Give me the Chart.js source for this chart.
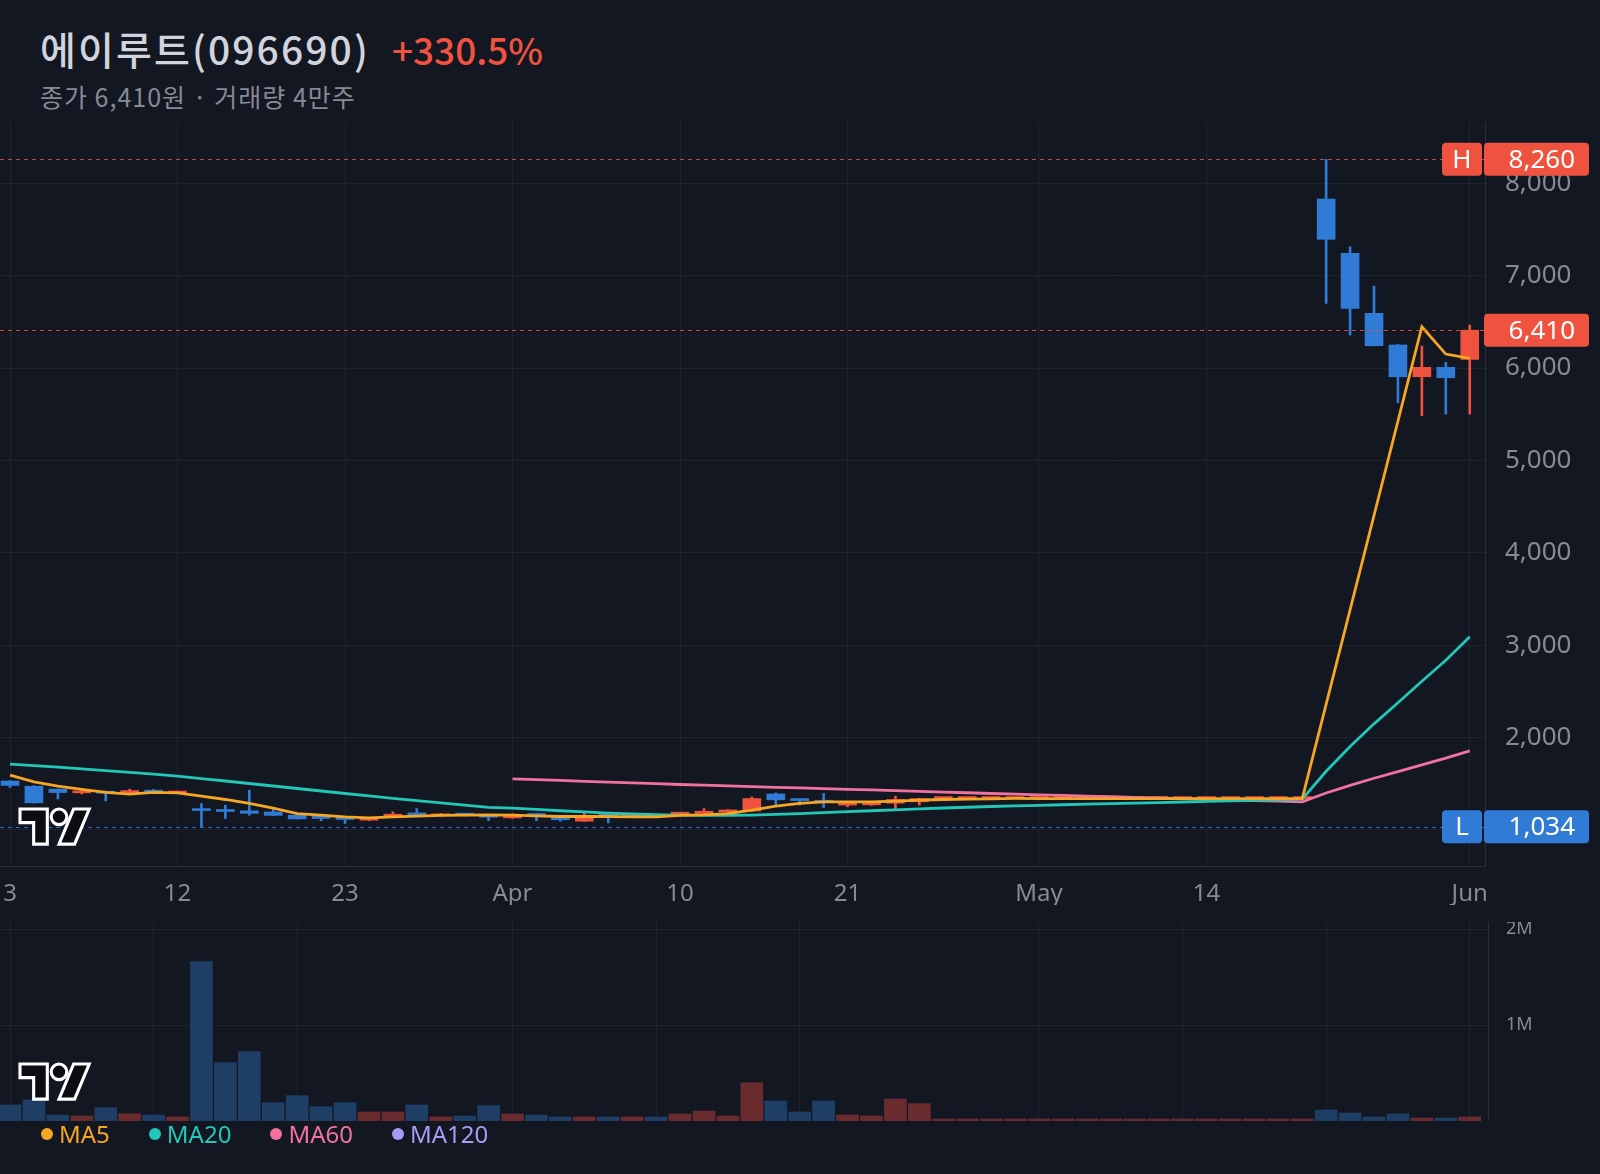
<!DOCTYPE html>
<html>
<head>
<meta charset="utf-8">
<script src="https://cdn.jsdelivr.net/npm/chart.js@4.4.1/dist/chart.umd.min.js"></script>
<style>
  html, body { margin: 0; padding: 0; background: #131722; }
  body { width: 1600px; height: 1174px; position: relative; overflow: hidden;
         font-family: "Noto Sans CJK KR", "Noto Sans", sans-serif; }
  #title { position: absolute; left: 40px; top: 25px; font-size: 39px; line-height: 46px;
           color: #d1d4dc; font-weight: 500; white-space: nowrap; letter-spacing: 2.1px; }
  #title .chg { color: #ef5340; margin-left: 22px; letter-spacing: 0; font-size: 37px; }
  #sub { position: absolute; left: 40px; top: 80px; font-size: 25px; line-height: 32px;
         color: #868a94; white-space: nowrap; letter-spacing: 1px; }
  #priceWrap { position: absolute; left: 0; top: 122px; }
  #volWrap { position: absolute; left: 0; top: 922px; }
  #legend { position: absolute; left: 41px; top: 1118px; font-size: 24px; line-height: 32px;
            white-space: nowrap; font-family: "Noto Sans", sans-serif; }
  #legend span { margin-right: 39px; }
  #legend i { display: inline-block; width: 12px; height: 12px; border-radius: 50%;
              margin-right: 6px; vertical-align: 3px; }
</style>
</head>
<body>
<div id="title">에이루트(096690)<span class="chg">+330.5%</span></div>
<div id="sub">종가 6,410원 · 거래량 4만주</div>
<div id="priceWrap"><canvas id="price" width="1600" height="783"></canvas></div>
<div id="volWrap"><canvas id="vol" width="1600" height="199"></canvas></div>
<div id="legend"></div>
<script>
/** DATA (one entry per trading day, Mar 3 .. Jun 1) */
const opens = [1530, 1474, 1442, 1402, 1416, 1405, 1420, 1400, 1225, 1210, 1207, 1195, 1160, 1149, 1142, 1106, 1146, 1185, 1153, 1168, 1160,
  1131, 1178, 1131, 1095, 1153, 1148, 1152, 1171, 1178, 1195, 1205, 1390, 1330, 1310, 1269, 1272, 1290, 1305,
  1340, 1340, 1340, 1340, 1340, 1340, 1340, 1340, 1340, 1340, 1340, 1340, 1340, 1340, 1340, 1340,
  7830, 7242, 6593, 6250, 5906, 6008, 6094];
const highs = [1535, 1480, 1445, 1440, 1420, 1442, 1440, 1415, 1287, 1269, 1431, 1232, 1165, 1152, 1145, 1135, 1196, 1232, 1180, 1172, 1163,
  1175, 1182, 1135, 1178, 1178, 1160, 1158, 1190, 1232, 1220, 1358, 1402, 1332, 1395, 1310, 1305, 1366, 1345,
  1340, 1340, 1340, 1340, 1340, 1340, 1340, 1340, 1340, 1340, 1340, 1340, 1340, 1340, 1340, 1340,
  8260, 7314, 6888, 6255, 6238, 6062, 6466];
const lows = [1460, 1290, 1335, 1390, 1315, 1385, 1405, 1395, 1034, 1124, 1160, 1155, 1118, 1099, 1070, 1100, 1140, 1155, 1150, 1150, 1100,
  1125, 1099, 1095, 1092, 1077, 1140, 1140, 1165, 1175, 1188, 1200, 1269, 1269, 1243, 1251, 1265, 1229, 1269,
  1340, 1340, 1340, 1340, 1340, 1340, 1340, 1340, 1340, 1340, 1340, 1340, 1340, 1340, 1340, 1340,
  6700, 6358, 6240, 5625, 5484, 5502, 5502];
const closes = [1482, 1294, 1405, 1420, 1398, 1420, 1410, 1410, 1210, 1200, 1180, 1158, 1120, 1124, 1113, 1131, 1171, 1160, 1170, 1160, 1138,
  1165, 1153, 1110, 1142, 1148, 1152, 1148, 1185, 1203, 1210, 1340, 1326, 1318, 1300, 1300, 1300, 1330, 1340,
  1340, 1340, 1340, 1340, 1340, 1340, 1340, 1340, 1340, 1340, 1340, 1340, 1340, 1340, 1340, 1340,
  7394, 6647, 6242, 5906, 6008, 5895, 6410];
const volumes = [167000, 219000, 62000, 52000, 139000, 76000, 62000, 42000, 1660000, 608000, 722000, 191000, 264000, 149000, 191000, 94000, 94000, 167000, 42000, 52000, 160000,
  73000, 62000, 42000, 42000, 42000, 42000, 42000, 73000, 104000, 52000, 399000, 208000, 94000, 208000, 62000, 52000, 229000, 181000,
  20000, 20000, 20000, 20000, 20000, 20000, 20000, 20000, 20000, 20000, 20000, 20000, 20000, 20000, 20000, 20000,
  115000, 83000, 42000, 73000, 31000, 31000, 42000];

const ma5 = [1594, 1521, 1474, 1439, 1406, 1388, 1406, 1402, 1366, 1330, 1287, 1236, 1178, 1160, 1142, 1131, 1142, 1149, 1157, 1160, 1164,
  1160, 1153, 1146, 1146, 1146, 1142, 1142, 1157, 1164, 1178, 1214, 1257, 1287, 1305, 1305, 1305, 1312, 1323,
  1330, 1334, 1337, 1341, 1340, 1340, 1340, 1340, 1340, 1340, 1340, 1340, 1340, 1340, 1340, 1340,
  null, null, null, null, 6448, 6152, 6105];
const ma20 = [1713, 1697, 1680, 1662, 1643, 1624, 1604, 1583, 1557, 1530, 1503, 1476, 1449, 1422, 1395, 1369, 1343, 1318, 1293, 1268, 1244,
  1236, 1222, 1208, 1195, 1183, 1173, 1165, 1160, 1157, 1157, 1160, 1168, 1177, 1188, 1198, 1208, 1218, 1228,
  1238, 1246, 1254, 1261, 1267, 1273, 1279, 1285, 1291, 1297, 1303, 1309, 1315, 1320, 1325, 1333,
  1636, 1903, 2149, 2377, 2610, 2838, 3091];
const ma60 = [null, null, null, null, null, null, null, null, null, null, null, null, null, null, null, null, null, null, null, null, null,
  1554, 1545, 1536, 1527, 1518, 1510, 1501, 1492, 1485, 1477, 1470, 1462, 1455, 1447, 1440, 1433, 1425, 1418,
  1410, 1403, 1395, 1388, 1381, 1374, 1367, 1360, 1353, 1346, 1339, 1333, 1326, 1319, 1312, 1305,
  1400, 1483, 1560, 1632, 1705, 1777, 1857];

const xTickIdx = [0, 7, 14, 21, 28, 35, 43, 50, 61];
const xTickText = ['3', '12', '23', 'Apr', '10', '21', 'May', '14', 'Jun'];
const volGridIdx = [0, 6, 12, 21, 27, 33, 43, 49, 55, 61];
const priceTicks = [1000, 2000, 3000, 4000, 5000, 6000, 7000, 8000];
const volTicks = [1000000, 2000000];

const maNames = ['MA5', 'MA20', 'MA60', 'MA120'];
const maColors = ['#f5a623', '#22c7b8', '#f2729f', '#a59cf5'];

const priceMarks = [
    { value: 8260, tag: 'H', color: '#ef5340' },
    { value: 6410, tag: null, color: '#ef5340' },
    { value: 1034, tag: 'L', color: '#2f7bd6' }
];

/** STYLE */
const GRID = '#1f232e';
const AXIS_LINE = '#2a2e39';
const TEXT = '#868a94';
const UP = '#ef5340';
const DOWN = '#2f7bd6';
const VOL_UP = '#6a2b2e';
const VOL_DOWN = '#1f3e66';
const STEP = 23.93;   // px per trading day
const FIRST = 10;     // px of first candle

const isUp = closes.map((c, i) => c >= opens[i]);

function lineSet(label, values, color) {
    return {
        type: 'line', label: label,
        data: values.map((v, i) => ({ x: i, y: v })),
        borderColor: color, borderWidth: 2.8, pointRadius: 0,
        spanGaps: true, tension: 0, order: 0
    };
}

function drawLogo(ctx, x, y) {
    // simplified TV logo, 36x28 viewbox scaled
    const s = 1.95;
    ctx.save();
    ctx.translate(x, y - 4 * s);
    ctx.scale(s, s);
    const p = new Path2D('M14 22H7V11H0V4h14v18zM28 22h-8l7.5-18h8L28 22z');
    ctx.lineWidth = 1.6;
    ctx.strokeStyle = '#ffffff';
    ctx.fillStyle = '#0b0d12';
    ctx.fill(p);
    ctx.stroke(p);
    ctx.beginPath();
    ctx.arc(20, 8, 4, 0, Math.PI * 2);
    ctx.fill();
    ctx.stroke();
    ctx.restore();
}

const markPlugin = {
    id: 'marks',
    afterDatasetsDraw(chart) {
        const ctx = chart.ctx;
        const area = chart.chartArea;
        const ys = chart.scales.y;
        ctx.save();
        priceMarks.forEach(m => {
            const y = Math.round(ys.getPixelForValue(m.value)) + 0.5;
            ctx.strokeStyle = m.color;
            ctx.globalAlpha = 0.85;
            ctx.lineWidth = 1.2;
            ctx.setLineDash([4, 4]);
            ctx.beginPath();
            ctx.moveTo(area.left, y);
            ctx.lineTo(area.right, y);
            ctx.stroke();
        });
        ctx.restore();
    },
    afterDraw(chart) {
        const ctx = chart.ctx;
        const area = chart.chartArea;
        const ys = chart.scales.y;
        ctx.save();
        priceMarks.forEach(m => {
            const y = ys.getPixelForValue(m.value);
            ctx.fillStyle = m.color;
            ctx.beginPath();
            ctx.roundRect(area.right - 1, y - 16.5, 105, 33, 4);
            ctx.fill();
            ctx.fillStyle = '#ffffff';
            ctx.font = '26px "Noto Sans", sans-serif';
            ctx.textBaseline = 'middle';
            ctx.textAlign = 'right';
            ctx.fillText(m.value.toLocaleString('en-US'), area.right + 90, y + 1);
            if (m.tag) {
                ctx.fillStyle = m.color;
                ctx.beginPath();
                ctx.roundRect(area.right - 43, y - 16.5, 40, 33, 4);
                ctx.fill();
                ctx.fillStyle = '#ffffff';
                ctx.textAlign = 'center';
                ctx.fillText(m.tag, area.right - 23, y + 1);
            }
        });
        drawLogo(ctx, 20, 687);
        ctx.restore();
    }
};

const priceChart = new Chart(document.getElementById('price'), {
    type: 'bar',
    data: {
        datasets: [
            lineSet('MA5', ma5, maColors[0]),
            lineSet('MA20', ma20, maColors[1]),
            lineSet('MA60', ma60, maColors[2]),
            {
                label: 'body',
                data: opens.map((o, i) => ({ x: i, y: [o, closes[i]] })),
                backgroundColor: isUp.map(u => u ? UP : DOWN),
                barThickness: 18, minBarLength: 2, grouped: false, order: 1
            },
            {
                label: 'wick',
                data: lows.map((l, i) => ({ x: i, y: [l, highs[i]] })),
                backgroundColor: isUp.map(u => u ? UP : DOWN),
                barThickness: 2, grouped: false, order: 2
            }
        ]
    },
    options: {
        responsive: false, animation: false,
        layout: { padding: 0 },
        plugins: { legend: { display: false }, tooltip: { enabled: false } },
        scales: {
            x: {
                type: 'linear', bounds: 'data', offset: false,
                min: -FIRST / STEP, max: (1485 - FIRST) / STEP,
                afterBuildTicks: s => { s.ticks = xTickIdx.map(v => ({ value: v })); },
                afterFit: s => { s.height = 39; s.paddingLeft = 0; s.paddingRight = 0; },
                ticks: {
                    autoSkip: false, maxRotation: 0, padding: 14, color: TEXT,
                    font: { size: 24, family: '"Noto Sans", sans-serif' },
                    callback: v => xTickText[xTickIdx.indexOf(v)]
                },
                grid: { color: GRID, drawTicks: false, offset: false },
                border: { display: true, color: AXIS_LINE }
            },
            y: {
                position: 'right', min: 610, max: 8664,
                afterBuildTicks: s => { s.ticks = priceTicks.map(v => ({ value: v })); },
                afterFit: s => { s.width = 115; s.paddingTop = 0; s.paddingBottom = 0; },
                ticks: {
                    padding: 20, color: TEXT,
                    font: { size: 26, family: '"Noto Sans", sans-serif' },
                    callback: v => v.toLocaleString('en-US')
                },
                grid: { color: GRID, drawTicks: false },
                border: { display: true, color: AXIS_LINE }
            }
        }
    },
    plugins: [markPlugin]
});

const volLogo = {
    id: 'volLogo',
    afterDraw(chart) { drawLogo(chart.ctx, 20, 142); }
};

const volChart = new Chart(document.getElementById('vol'), {
    type: 'bar',
    data: {
        datasets: [{
            label: 'volume',
            data: volumes.map((v, i) => ({ x: i, y: v })),
            backgroundColor: isUp.map(u => u ? VOL_UP : VOL_DOWN),
            barThickness: 22, minBarLength: 2, grouped: false
        }]
    },
    options: {
        responsive: false, animation: false,
        layout: { padding: 0 },
        plugins: { legend: { display: false }, tooltip: { enabled: false } },
        scales: {
            x: {
                type: 'linear', bounds: 'data', offset: false,
                min: -FIRST / STEP, max: (1488 - FIRST) / STEP,
                afterBuildTicks: s => { s.ticks = volGridIdx.map(v => ({ value: v })); },
                afterFit: s => { s.height = 0; s.paddingLeft = 0; s.paddingRight = 0; },
                ticks: { display: false },
                grid: { color: GRID, drawTicks: false, offset: false },
                border: { display: false }
            },
            y: {
                position: 'right', min: 0, max: 2073000,
                afterBuildTicks: s => { s.ticks = volTicks.map(v => ({ value: v })); },
                afterFit: s => { s.width = 112; s.paddingTop = 0; s.paddingBottom = 0; },
                ticks: {
                    padding: 18, color: TEXT,
                    font: { size: 18, family: '"Noto Sans", sans-serif' },
                    callback: v => (v / 1000000) + 'M'
                },
                grid: { color: GRID, drawTicks: false },
                border: { display: true, color: AXIS_LINE }
            }
        }
    },
    plugins: [volLogo]
});

// legend
const legend = document.getElementById('legend');
maNames.forEach((name, i) => {
    const span = document.createElement('span');
    span.style.color = maColors[i];
    span.innerHTML = '<i style="background:' + maColors[i] + '"></i>' + name;
    legend.appendChild(span);
});
</script>
</body>
</html>
